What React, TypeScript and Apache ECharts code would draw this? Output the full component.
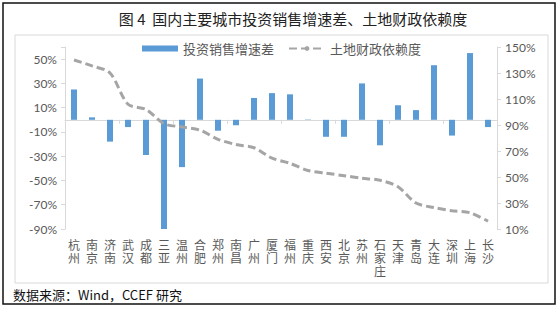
import React, { useEffect, useRef } from "react";
import * as echarts from "echarts";

const cities = ["杭州","南京","济南","武汉","成都","三亚","温州","合肥","郑州","南昌","广州","厦门","福州","重庆","西安","北京","苏州","石家庄","天津","青岛","大连","深圳","上海","长沙"];
const investSalesGap = [25, 2, -18, -6, -29, -90, -39, 34, -9, -4.5, 18, 22, 21, 0.3, -14, -14, 30, -21, 12, 8, 45, -13, 55, -6];
const landFinanceDep = [140, 135.5, 130, 106, 102, 91, 88.5, 86, 79, 75, 72.5, 64.5, 60.5, 55, 53, 51, 49, 47.5, 42.5, 30, 26.5, 24, 22.5, 16];
const leftTicks = { min: -90, max: 60, interval: 20 };
const rightTicks = { min: 10, max: 150, interval: 20 };

const TITLE = "图\u00a04\u00a0\u00a0国内主要城市投资销售增速差、土地财政依赖度";
const SOURCE = "数据来源：Wind，CCEF 研究";
const CJK = "'Noto Sans CJK SC', sans-serif";
const NUM = "Lato, 'Noto Sans CJK SC', sans-serif";

export default function App() {
  const ref = useRef<HTMLDivElement>(null);
  useEffect(() => {
    if (!ref.current) return;
    const chart = echarts.init(ref.current, undefined, { renderer: "svg" });
    chart.setOption({
      animation: false,
      backgroundColor: "#ffffff",
      title: {
        text: TITLE,
        left: 288,
        textAlign: "center",
        top: 6,
        textStyle: { fontFamily: CJK, fontSize: 15, fontWeight: "normal", color: "#222" },
      },
      graphic: [
        { type: "rect", shape: { x: 3, y: 3, width: 552, height: 301 }, style: { fill: "none", stroke: "#111", lineWidth: 1.5 }, silent: true },
        { type: "rect", shape: { x: 15, y: 35, width: 533, height: 248 }, style: { fill: "none", stroke: "#D9D9D9", lineWidth: 1 }, silent: true },
        { type: "text", x: 13, y: 288, style: { text: SOURCE, fontFamily: CJK, fontSize: 13, fill: "#111" } },
      ],
      legend: {
        left: 137,
        top: 37,
        itemWidth: 36,
        itemHeight: 6,
        itemGap: 14,
        textStyle: { fontFamily: CJK, fontSize: 13, color: "#595959" },
        data: [
          { name: "投资销售增速差", icon: "rect" },
          { name: "土地财政依赖度" },
        ],
      },
      grid: { left: 65, right: 62, top: 47, bottom: 82, containLabel: false },
      xAxis: [
        {
          type: "category",
          data: cities,
          axisLine: { onZero: true, onZeroAxisIndex: 0, lineStyle: { color: "#D9D9D9", width: 1 } },
          axisTick: { show: true, length: 4, lineStyle: { color: "#D9D9D9" } },
          axisLabel: { show: false },
        },
        {
          type: "category",
          data: cities,
          position: "bottom",
          axisLine: { show: false, onZero: false },
          axisTick: { show: false },
          axisLabel: {
            interval: 0,
            margin: 9,
            fontFamily: CJK,
            fontSize: 12,
            lineHeight: 13,
            color: "#595959",
            formatter: (v: string) => v.split("").join("\n"),
          },
        },
      ],
      yAxis: [
        {
          type: "value",
          min: leftTicks.min,
          max: leftTicks.max,
          interval: leftTicks.interval,
          position: "left",
          splitLine: { show: false },
          axisLine: { show: true, lineStyle: { color: "#D9D9D9" } },
          axisTick: { show: true, length: 4, lineStyle: { color: "#D9D9D9" } },
          axisLabel: {
            fontFamily: NUM,
            fontSize: 12,
            color: "#595959",
            margin: 8,
            formatter: (v: number) => (v === leftTicks.max ? "" : v + "%"),
          },
        },
        {
          type: "value",
          min: rightTicks.min,
          max: rightTicks.max,
          interval: rightTicks.interval,
          position: "right",
          splitLine: { show: false },
          axisLine: { show: true, lineStyle: { color: "#D9D9D9" } },
          axisTick: { show: true, length: 4, lineStyle: { color: "#D9D9D9" } },
          axisLabel: {
            fontFamily: NUM,
            fontSize: 12,
            color: "#595959",
            margin: 8,
            formatter: (v: number) => v + "%",
          },
        },
      ],
      series: [
        {
          name: "投资销售增速差",
          type: "bar",
          xAxisIndex: 0,
          yAxisIndex: 0,
          data: investSalesGap,
          barWidth: 6,
          itemStyle: { color: "#5B9BD5" },
        },
        {
          name: "土地财政依赖度",
          type: "line",
          xAxisIndex: 0,
          yAxisIndex: 1,
          data: landFinanceDep,
          symbol: "none",
          smooth: 0.3,
          lineStyle: { color: "#A5A5A5", width: 3, type: [8, 4] },
          itemStyle: { color: "#A5A5A5" },
        },
      ],
    });
    return () => chart.dispose();
  }, []);
  return (
    <div
      ref={ref}
      style={{ position: "fixed", left: 0, top: 0, width: 559, height: 311 }}
    />
  );
}
